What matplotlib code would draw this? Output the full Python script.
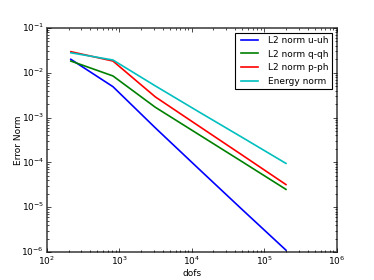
import matplotlib
matplotlib.use("Agg")
import matplotlib.pyplot as plt

plt.style.use("classic")

dofs = [215, 820, 3150, 12500, 50000, 200000]
err_u = [0.020, 0.0049, 5.9e-4, 7.2e-5, 8.8e-6, 1.1e-6]
err_q = [0.0183, 0.0085, 1.7e-3, 4.2e-4, 1.03e-4, 2.5e-5]
err_p = [0.0296, 0.0183, 2.9e-3, 6.5e-4, 1.45e-4, 3.2e-5]
err_energy = [0.028, 0.0193, 5.1e-3, 1.35e-3, 3.6e-4, 9.5e-5]

labels = ["L2 norm u-uh", "L2 norm q-qh", "L2 norm p-ph", "Energy norm"]

fig = plt.figure(figsize=(3.74, 2.8), dpi=100)
ax = fig.add_axes([0.125, 0.1, 0.775, 0.8])

lw = 1.2
ax.loglog(dofs, err_u, "b", lw=lw, label=labels[0])
ax.loglog(dofs, err_q, "g", lw=lw, label=labels[1])
ax.loglog(dofs, err_p, "r", lw=lw, label=labels[2])
ax.loglog(dofs, err_energy, "c", lw=lw, label=labels[3])

ax.set_xlim(1e2, 1e6)
ax.set_ylim(1e-6, 1e-1)
ax.set_xlabel("dofs", fontsize=6.5, labelpad=1)
ax.set_ylabel("Error Norm", fontsize=6.5, labelpad=-1)
ax.tick_params(labelsize=6.5, pad=2)
ax.tick_params(which="major", length=3)
ax.tick_params(which="minor", length=1.5)
for sp in ax.spines.values():
    sp.set_linewidth(1.3)
    sp.set_color("#555555")

leg = ax.legend(loc="upper right", fontsize=6.5, handlelength=2.5)
leg.get_frame().set_linewidth(0.8)

fig.savefig("out.png", dpi=100)
